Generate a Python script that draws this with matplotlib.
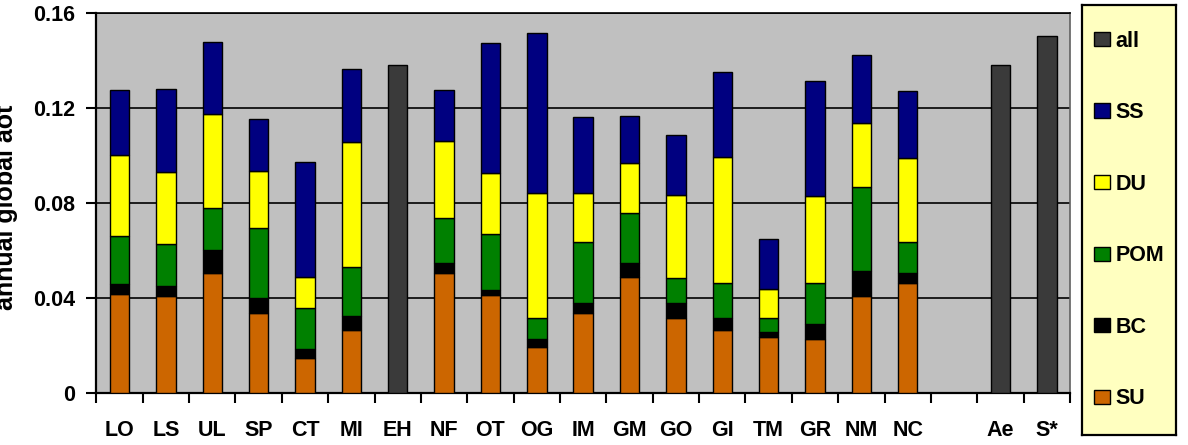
import numpy as np
import matplotlib
matplotlib.use("Agg")
import matplotlib.pyplot as plt
from matplotlib.patches import Patch

plt.rcParams['font.family'] = ['Liberation Sans', 'DejaVu Sans']
plt.rcParams['font.weight'] = 'bold'

# ---------------------------
# data (annual global aot per component)
# ---------------------------
categories = ['LO', 'LS', 'UL', 'SP', 'CT', 'MI', 'EH', 'NF', 'OT', 'OG', 'IM',
              'GM', 'GO', 'GI', 'TM', 'GR', 'NM', 'NC', '', 'Ae', 'S*']

# models with a component breakdown
comp_models = ['LO', 'LS', 'UL', 'SP', 'CT', 'MI', 'NF', 'OT', 'OG', 'IM',
               'GM', 'GO', 'GI', 'TM', 'GR', 'NM', 'NC']
su = [0.0415, 0.0408, 0.0505, 0.0337, 0.0145, 0.0264, 0.0505, 0.0410, 0.0194,
      0.0337, 0.0486, 0.0316, 0.0264, 0.0236, 0.0225, 0.0408, 0.0463]
bc = [0.0041, 0.0041, 0.0096, 0.0063, 0.0039, 0.0059, 0.0040, 0.0022, 0.0031,
      0.0042, 0.0061, 0.0060, 0.0049, 0.0021, 0.0063, 0.0104, 0.0039]
pom = [0.0204, 0.0176, 0.0175, 0.0295, 0.0174, 0.0207, 0.0189, 0.0236, 0.0088,
       0.0257, 0.0208, 0.0105, 0.0147, 0.0059, 0.0175, 0.0355, 0.0134]
du = [0.0339, 0.0306, 0.0396, 0.0238, 0.0128, 0.0527, 0.0327, 0.0258, 0.0526,
      0.0206, 0.0211, 0.0351, 0.0534, 0.0119, 0.0367, 0.0267, 0.0351]
ss = [0.0275, 0.0346, 0.0306, 0.0218, 0.0484, 0.0304, 0.0213, 0.0545, 0.0674,
      0.0317, 0.0200, 0.0253, 0.0358, 0.0211, 0.0484, 0.0288, 0.0285]

# models / data with only a total
all_models = ['EH', 'Ae', 'S*']
all_vals = [0.138, 0.138, 0.150]

colors = {'all': '#3a3a3a', 'SS': '#000080', 'DU': '#ffff00',
          'POM': '#008000', 'BC': '#000000', 'SU': '#cc6600'}

# ---------------------------
# figure
# ---------------------------
fig = plt.figure(figsize=(11.88, 4.45), dpi=100)
ax = fig.add_axes([0.0811, 0.1175, 0.8196, 0.854])
ax.set_facecolor('#c0c0c0')

width = 0.42
xpos = np.array([categories.index(m) for m in comp_models])
bottom = np.zeros(len(comp_models))
for name, vals in [('SU', su), ('BC', bc), ('POM', pom), ('DU', du), ('SS', ss)]:
    ax.bar(xpos, vals, width, bottom=bottom, color=colors[name],
           edgecolor='black', linewidth=1, zorder=3)
    bottom += np.array(vals)

xall = [categories.index(m) for m in all_models]
ax.bar(xall, all_vals, width, color=colors['all'], edgecolor='black',
       linewidth=1, zorder=3)

# axes styling
ax.set_xlim(-0.5, len(categories) - 0.5)
ax.set_ylim(0, 0.16)
ax.set_yticks([0, 0.04, 0.08, 0.12, 0.16])
ax.set_yticklabels(['0', '0.04', '0.08', '0.12', '0.16'])
ax.yaxis.grid(True, color='black', linewidth=1.2, zorder=1)
ax.set_axisbelow(True)

ax.set_xticks(range(len(categories)))
ax.set_xticklabels(categories)
ax.set_xticks(np.arange(-0.5, len(categories), 1.0), minor=True)
ax.tick_params(axis='x', which='major', length=0, pad=20, labelsize=15.5)
ax.tick_params(axis='x', which='minor', length=7, width=1.5, direction='out')
ax.tick_params(axis='y', length=7, width=1.5, direction='out', pad=8,
               labelsize=15.5)
for side in ['left', 'bottom']:
    ax.spines[side].set_linewidth(1.6)
for side in ['top', 'right']:
    ax.spines[side].set_linewidth(1.2)
ax.spines['right'].set_color('#606060')

# axis title sits partly off the left edge, as in the original
fig.text(0.0152, 0.535, 'annual global aot', rotation=90, ha='right',
         va='center', fontsize=18, fontweight='bold')

# legend in its own yellow box
lax = fig.add_axes([0.9108, 0.0225, 0.0791, 0.9663])
lax.set_facecolor('#ffffc0')
lax.set_xticks([])
lax.set_yticks([])
for sp in lax.spines.values():
    sp.set_linewidth(1.6)
handles = [Patch(facecolor=colors[k], edgecolor='black', linewidth=1)
           for k in ['all', 'SS', 'DU', 'POM', 'BC', 'SU']]
lax.legend(handles, ['all', 'SS', 'DU', 'POM', 'BC', 'SU'], loc='center',
           frameon=False, fontsize=15.5, labelspacing=2.35, handlelength=0.75,
           handleheight=0.65, handletextpad=0.25, borderaxespad=0)

fig.savefig('out.png', dpi=100)
